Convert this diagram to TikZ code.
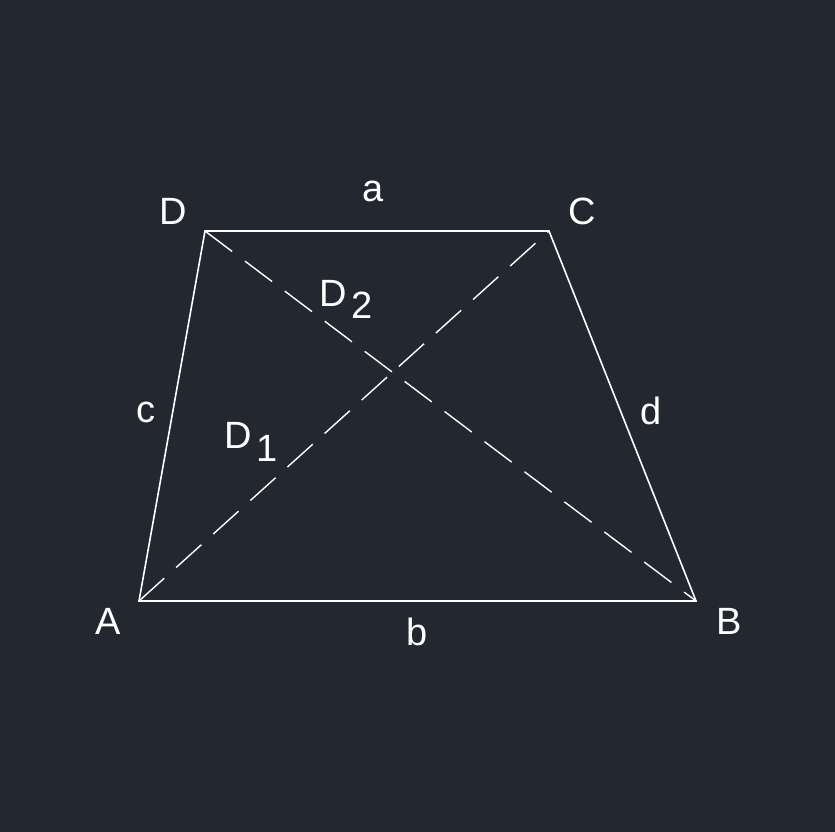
\documentclass[tikz,border=0pt]{standalone}
\usepackage{fontspec}
\setmainfont{Liberation Sans}
\definecolor{bg}{RGB}{35,39,47}
\begin{document}
\begin{tikzpicture}[x=1pt,y=-1pt,
  edge/.style={white,line width=1.6pt},
  diag/.style={white,line width=1.4pt,dash pattern=on 34pt off 16pt},
  lbl/.style={text=white,font=\fontsize{38}{38}\selectfont,inner sep=0pt},
  pt/.style={inner sep=0pt,minimum size=0pt}]
\fill[bg] (0,0) rectangle (835,832);
\useasboundingbox (0,0) rectangle (835,832);
\coordinate (A) at (139,601);
\coordinate (B) at (696,601);
\coordinate (C) at (549,231);
\coordinate (D) at (205,231);
\draw[edge] (A) -- (B) -- (C) -- (D) -- cycle;
\draw[diag] (A) -- (C);
\draw[diag] (D) -- (B);
\node[lbl] (lD) at (173,211) {D};
\node[lbl] (la) at (373,191) {a};
\node[lbl] (lC) at (582,211) {C};
\node[lbl] (lc) at (146,412) {c};
\node[lbl] (ld) at (651,411) {d};
\node[lbl] (lA) at (108,621) {A};
\node[lbl] (lb) at (417,632) {b};
\node[lbl] (lB) at (729,621) {B};
\node[lbl] (lD1) at (238,435) {D};
\node[lbl] (l1) at (267,448) {1};
\node[lbl] (lD2) at (333,293) {D};
\node[lbl] (l2) at (362,305) {2};
\end{tikzpicture}
\end{document}
